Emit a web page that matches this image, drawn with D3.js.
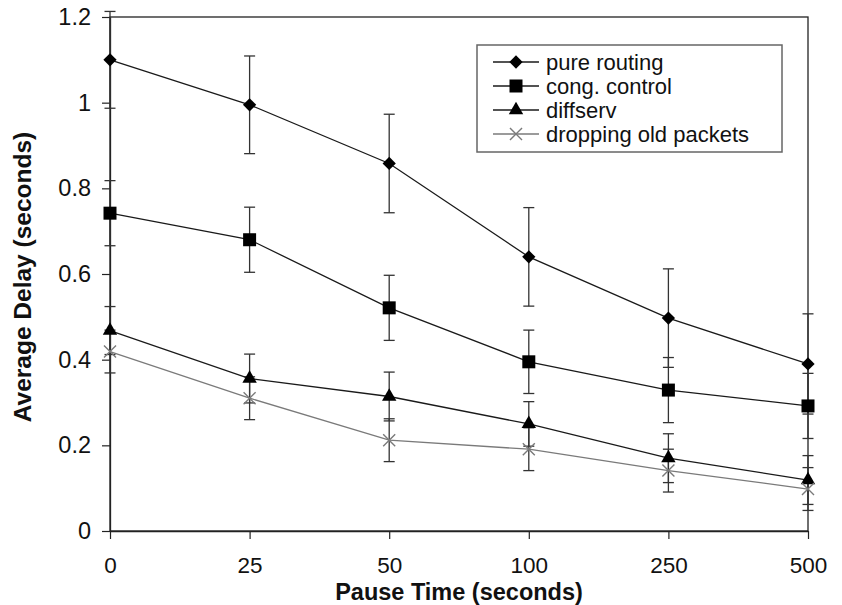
<!DOCTYPE html>
<html>
<head>
<meta charset="utf-8">
<script src="https://cdn.jsdelivr.net/npm/d3@7"></script>
<style>
  body { margin: 0; background: #fff; }
  text { font-family: Arial, "Liberation Sans", sans-serif; fill: #111; }
</style>
</head>
<body>
<script>
// data
const pauseTimes = ["0", "25", "50", "100", "250", "500"];
const seriesNames = ["pure routing", "cong. control", "diffserv", "dropping old packets"];
const pureRouting = [1.10, 0.995, 0.858, 0.640, 0.497, 0.390];
const congControl = [0.742, 0.680, 0.521, 0.395, 0.329, 0.292];
const diffserv = [0.468, 0.356, 0.314, 0.250, 0.170, 0.119];
const droppingOld = [0.419, 0.310, 0.212, 0.191, 0.141, 0.098];
// half width of the error bars
const pureErr = [0.113, 0.114, 0.115, 0.115, 0.115, 0.117];
const congErr = [0.076, 0.076, 0.076, 0.074, 0.076, 0.076];
const diffErr = [0.056, 0.057, 0.057, 0.052, 0.057, 0.057];
const dropErr = [0.050, 0.050, 0.050, 0.050, 0.050, 0.050];
const yTicks = [0, 0.2, 0.4, 0.6, 0.8, 1, 1.2];

let margin = null, width = null, height = null;
let svg = null;
let x, y = null;

const series = [
  {name: seriesNames[0], values: pureRouting, err: pureErr, marker: "diamond", color: "#1a1a1a"},
  {name: seriesNames[1], values: congControl, err: congErr, marker: "square", color: "#1a1a1a"},
  {name: seriesNames[2], values: diffserv, err: diffErr, marker: "triangle", color: "#1a1a1a"},
  {name: seriesNames[3], values: droppingOld, err: dropErr, marker: "x", color: "#7a7a7a"}
];

setupCanvasSize();
appendSvg("body");
setupScales();
appendAxes();
appendErrorBars();
appendLines();
appendMarkers();
appendTitles();
appendLegend();

function setupCanvasSize() {
  margin = {top: 17, left: 110, bottom: 74, right: 34};
  width = 842 - margin.left - margin.right;
  height = 605 - margin.top - margin.bottom;
}

function appendSvg(domElement) {
  svg = d3.select(domElement).append("svg")
    .attr("width", 842)
    .attr("height", 605)
    .append("g")
    .attr("transform", "translate(" + margin.left + "," + margin.top + ")");
}

function setupScales() {
  x = d3.scalePoint().domain(pauseTimes).range([0, width]);
  y = d3.scaleLinear().domain([0, 1.2]).range([height, 0]);
}

function appendAxes() {
  // plot box
  svg.append("rect")
    .attr("width", width)
    .attr("height", height)
    .attr("fill", "none")
    .attr("stroke", "#222")
    .attr("stroke-width", 1.3);

  let xa = svg.append("g")
    .attr("transform", "translate(0," + height + ")")
    .call(d3.axisBottom(x).tickSizeInner(8).tickSizeOuter(0).tickPadding(18));
  xa.selectAll("text").style("font-size", "22.5px");

  let ya = svg.append("g")
    .call(d3.axisLeft(y).tickValues(yTicks).tickFormat(d3.format("~g"))
      .tickSizeInner(8).tickSizeOuter(0).tickPadding(11));
  ya.selectAll("text").style("font-size", "23.5px");

  svg.selectAll(".domain").attr("stroke", "#222").attr("stroke-width", 1.3);
  svg.selectAll(".tick line").attr("stroke", "#222").attr("stroke-width", 1.2);
}

function appendErrorBars() {
  const cap = 5.5;
  series.forEach(function(s) {
    let g = svg.append("g").attr("class", "errbars");
    s.values.forEach(function(v, i) {
      let cx = x(pauseTimes[i]);
      let hi = y(v + s.err[i]), lo = y(v - s.err[i]);
      g.append("line").attr("x1", cx).attr("x2", cx).attr("y1", hi).attr("y2", lo);
      g.append("line").attr("x1", cx - cap).attr("x2", cx + cap).attr("y1", hi).attr("y2", hi);
      g.append("line").attr("x1", cx - cap).attr("x2", cx + cap).attr("y1", lo).attr("y2", lo);
    });
    g.selectAll("line").attr("stroke", "#333").attr("stroke-width", 1.3);
  });
}

function appendLines() {
  let line = d3.line()
    .x(function(d, i) { return x(pauseTimes[i]); })
    .y(function(d) { return y(d); });

  series.forEach(function(s) {
    svg.append("path")
      .datum(s.values)
      .attr("d", line)
      .attr("fill", "none")
      .attr("stroke", s.color)
      .attr("stroke-width", 1.3);
  });
}

function markerPath(type) {
  if (type == "diamond") return d3.symbol(d3.symbolSquare, 88)();
  if (type == "square") return d3.symbol(d3.symbolSquare, 169)();
  if (type == "triangle") return d3.symbol(d3.symbolTriangle, 90)();
  return d3.symbol(d3.symbolX, 96)();
}

function drawMarker(g, type, color, cx, cy) {
  let rot = type == "diamond" ? " rotate(45)" : "";
  let p = g.append("path")
    .attr("d", markerPath(type))
    .attr("transform", "translate(" + cx + "," + cy + ")" + rot);
  if (type == "x") {
    p.attr("fill", "none").attr("stroke", color).attr("stroke-width", 1.4);
  } else {
    p.attr("fill", "#000").attr("stroke", "none");
  }
}

function appendMarkers() {
  series.forEach(function(s) {
    let g = svg.append("g");
    s.values.forEach(function(v, i) {
      drawMarker(g, s.marker, s.color, x(pauseTimes[i]), y(v));
    });
  });
}

function appendTitles() {
  svg.append("text")
    .attr("x", width / 2)
    .attr("y", height + 69)
    .style("text-anchor", "middle")
    .style("font-size", "23.5px")
    .style("font-weight", "bold")
    .text("Pause Time (seconds)");

  svg.append("text")
    .attr("transform", "rotate(-90)")
    .attr("x", -height / 2 - 3)
    .attr("y", -79)
    .style("text-anchor", "middle")
    .style("font-size", "24.5px")
    .style("font-weight", "bold")
    .text("Average Delay (seconds)");
}

function appendLegend() {
  // legend box sits inside the plot, upper right
  let lg = svg.append("g")
    .attr("class", "legend")
    .attr("transform", "translate(" + (477 - margin.left) + "," + (45 - margin.top) + ")");

  lg.append("rect")
    .attr("width", 305)
    .attr("height", 107)
    .attr("fill", "#fff")
    .attr("stroke", "#666")
    .attr("stroke-width", 1.5);

  series.forEach(function(s, i) {
    let ry = 17 + 24 * i;
    lg.append("line")
      .attr("x1", 16).attr("x2", 62)
      .attr("y1", ry).attr("y2", ry)
      .attr("stroke", s.color)
      .attr("stroke-width", 1.3);
    drawMarker(lg, s.marker, s.color, 39, ry);
    lg.append("text")
      .attr("x", 69)
      .attr("y", ry)
      .attr("dy", "0.36em")
      .style("font-size", "22px")
      .text(s.name);
  });
}
</script>
</body>
</html>
